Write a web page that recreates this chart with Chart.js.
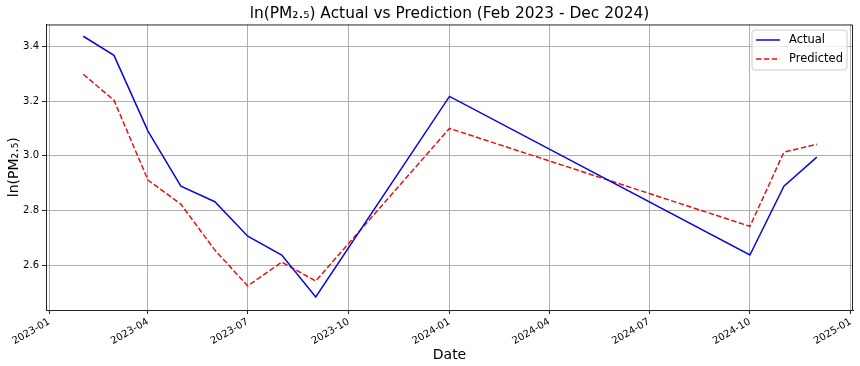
<!DOCTYPE html>
<html>
<head>
<meta charset="utf-8">
<script src="https://cdn.jsdelivr.net/npm/chart.js@4.4.1/dist/chart.umd.min.js"></script>
<style>
    html, body { margin: 0; padding: 0; background: #fff; }
    #wrap { width: 860px; height: 366px; }
</style>
</head>
<body>
<div id="wrap"><canvas id="pmChart" width="860" height="366"></canvas></div>
<script>
    // months (year, month 1-12) that have data
    const months = [
        [2023, 2], [2023, 3], [2023, 4], [2023, 5], [2023, 6], [2023, 7],
        [2023, 8], [2023, 9], [2024, 1], [2024, 10], [2024, 11], [2024, 12]
    ];
    const actual = [3.437, 3.367, 3.090, 2.889, 2.832, 2.706, 2.637, 2.484, 3.217, 2.637, 2.889, 2.995];
    const predicted = [3.298, 3.203, 2.911, 2.823, 2.655, 2.524, 2.611, 2.542, 3.100, 2.742, 3.013, 3.042];
    const xTickMonths = [
        [2023, 1], [2023, 4], [2023, 7], [2023, 10],
        [2024, 1], [2024, 4], [2024, 7], [2024, 10], [2025, 1]
    ];
    const yTicks = [2.6, 2.8, 3.0, 3.2, 3.4];

    const toMs = ym => Date.UTC(ym[0], ym[1] - 1, 1);
    const DAY = 86400000;

    const fmtDate = v => {
        const d = new Date(v);
        return d.getUTCFullYear() + '-' + String(d.getUTCMonth() + 1).padStart(2, '0');
    };

    const FONT = 'DejaVu Sans';

    // top/right spines + legend inside the axes
    const framePlugin = {
        id: 'frame',
        afterDraw(chart) {
            const { ctx, chartArea: a } = chart;
            ctx.save();
            ctx.strokeStyle = '#222';
            ctx.lineWidth = 1;
            ctx.beginPath();
            ctx.moveTo(a.left, a.top + 0.5);
            ctx.lineTo(a.right - 0.5, a.top + 0.5);
            ctx.lineTo(a.right - 0.5, a.bottom);
            ctx.stroke();

            // legend box
            const bx = 752, by = 30, bw = 95, bh = 40, r = 3;
            ctx.beginPath();
            ctx.moveTo(bx + r, by);
            ctx.arcTo(bx + bw, by, bx + bw, by + bh, r);
            ctx.arcTo(bx + bw, by + bh, bx, by + bh, r);
            ctx.arcTo(bx, by + bh, bx, by, r);
            ctx.arcTo(bx, by, bx + bw, by, r);
            ctx.closePath();
            ctx.fillStyle = 'rgba(255,255,255,0.8)';
            ctx.fill();
            ctx.strokeStyle = '#cccccc';
            ctx.stroke();

            ctx.font = '11.5px ' + FONT;
            ctx.textBaseline = 'middle';
            chart.data.datasets.forEach((ds, i) => {
                const yy = by + 10 + i * 19;
                ctx.beginPath();
                ctx.setLineDash(ds.borderDash || []);
                ctx.strokeStyle = ds.borderColor;
                ctx.lineWidth = ds.borderWidth;
                ctx.moveTo(bx + 4, yy);
                ctx.lineTo(bx + 28, yy);
                ctx.stroke();
                ctx.setLineDash([]);
                ctx.fillStyle = '#000';
                ctx.fillText(ds.label, bx + 37, yy);
            });
            ctx.restore();
        }
    };

    const ctx = document.getElementById('pmChart').getContext('2d');
    new Chart(ctx, {
        type: 'line',
        data: {
            datasets: [{
                label: 'Actual',
                data: months.map((m, i) => ({ x: toMs(m), y: actual[i] })),
                borderColor: '#0808d8',
                borderWidth: 1.5,
                pointRadius: 0,
                tension: 0,
                fill: false
            }, {
                label: 'Predicted',
                data: months.map((m, i) => ({ x: toMs(m), y: predicted[i] })),
                borderColor: '#e01414',
                borderWidth: 1.5,
                borderDash: [5.5, 2.4],
                pointRadius: 0,
                tension: 0,
                fill: false
            }]
        },
        options: {
            responsive: false,
            animation: false,
            layout: { padding: { right: 7 } },
            plugins: {
                legend: { display: false },
                tooltip: { enabled: false },
                title: {
                    display: true,
                    fullSize: false,
                    text: 'ln(PM₂.₅) Actual vs Prediction (Feb 2023 - Dec 2024)',
                    color: '#000',
                    font: { family: FONT, size: 15.4, weight: 'normal' },
                    padding: { top: 5, bottom: 1 }
                }
            },
            scales: {
                x: {
                    type: 'linear',
                    min: toMs([2023, 1]) - 3 * DAY,
                    max: toMs([2025, 1]) + 2 * DAY,
                    afterBuildTicks: s => { s.ticks = xTickMonths.map(m => ({ value: toMs(m) })); },
                    afterFit: s => { s.height = 56; },
                    ticks: {
                        autoSkip: false,
                        minRotation: 30,
                        maxRotation: 30,
                        color: '#000',
                        font: { family: FONT, size: 10 },
                        padding: 2,
                        callback: v => fmtDate(v)
                    },
                    grid: { color: '#b0b0b0', lineWidth: 1, tickLength: 4, tickColor: '#222' },
                    border: { color: '#222', width: 1 },
                    title: {
                        display: true,
                        text: 'Date',
                        color: '#000',
                        font: { family: FONT, size: 14 },
                        padding: { top: 0, bottom: 2 }
                    }
                },
                y: {
                    min: 2.436,
                    max: 3.48,
                    afterBuildTicks: s => { s.ticks = yTicks.map(v => ({ value: v })); },
                    afterFit: s => { s.width = 46; },
                    ticks: {
                        color: '#000',
                        font: { family: FONT, size: 10 },
                        padding: 3,
                        callback: v => v.toFixed(1)
                    },
                    grid: { color: '#b0b0b0', lineWidth: 1, tickLength: 4, tickColor: '#222' },
                    border: { color: '#222', width: 1 },
                    title: {
                        display: true,
                        text: 'ln(PM₂.₅)',
                        color: '#000',
                        font: { family: FONT, size: 14 },
                        padding: { top: 6, bottom: 0 }
                    }
                }
            }
        },
        plugins: [framePlugin]
    });
</script>
</body>
</html>
